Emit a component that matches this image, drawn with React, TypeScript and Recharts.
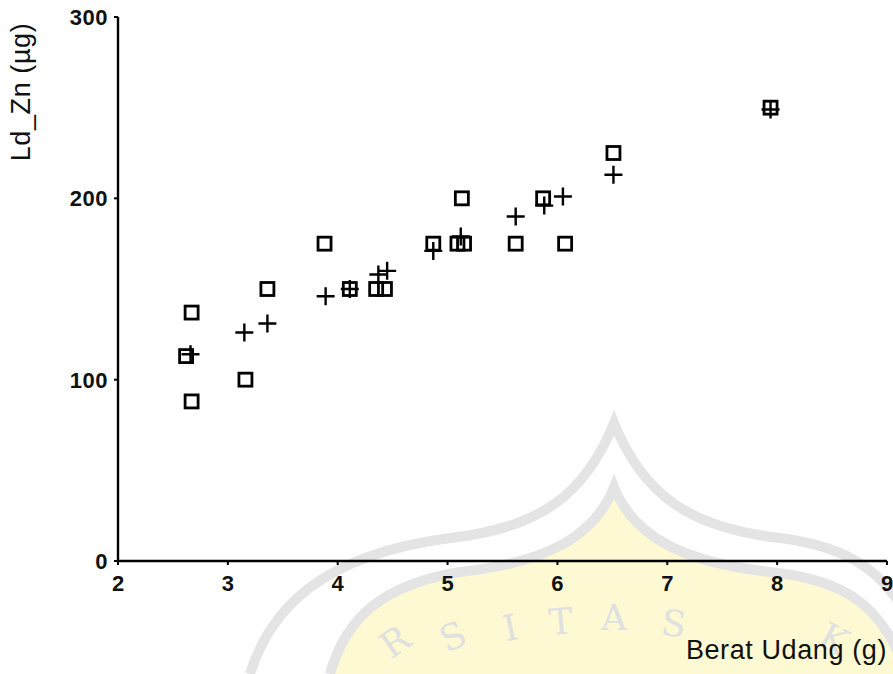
import React from 'react';
import { ScatterChart, Scatter, XAxis, YAxis, Label } from 'recharts';

// Observed values (squares)
const observedX = [2.62, 2.67, 2.67, 3.16, 3.36, 3.88, 4.11, 4.35, 4.43, 4.87, 5.09, 5.15, 5.13, 5.62, 5.87, 6.07, 6.51, 7.94];
const observedY = [113, 137, 88, 100, 150, 175, 150, 150, 150, 175, 175, 175, 200, 175, 200, 175, 225, 250];
// Predicted values (crosses)
const predictedX = [2.66, 3.15, 3.36, 3.89, 4.11, 4.37, 4.45, 4.87, 5.12, 5.62, 5.88, 6.05, 6.51, 7.94];
const predictedY = [114, 126, 131, 146, 150, 158, 160, 171, 179, 190, 196, 201, 213, 249];

const xTicks = [2, 3, 4, 5, 6, 7, 8, 9];
const yTicks = [0, 100, 200, 300];
const xLabel = 'Berat Udang (g)';
const yLabel = 'Ld_Zn (µg)';

const observed = observedX.map((x, i) => ({ x, y: observedY[i] }));
const predicted = predictedX.map((x, i) => ({ x, y: predictedY[i] }));

const FONT = '"Liberation Sans", Arial, Helvetica, sans-serif';

const Square = (props: any) => {
  const { cx, cy } = props;
  if (cx == null || cy == null) return null;
  return <rect x={cx - 6.5} y={cy - 6.5} width={13} height={13} fill="none" stroke="#000" strokeWidth={2.8} />;
};

const Cross = (props: any) => {
  const { cx, cy } = props;
  if (cx == null || cy == null) return null;
  return (
    <path d={`M${cx - 9},${cy}H${cx + 9}M${cx},${cy - 9}V${cy + 9}`} stroke="#000" strokeWidth={2.4} fill="none" />
  );
};

const XTick = (props: any) => {
  const { x, y, payload } = props;
  return (
    <text x={x} y={y + 24} textAnchor="middle" fontFamily={FONT} fontWeight="bold" fontSize={22} fill="#111">
      {payload.value}
    </text>
  );
};

const YTick = (props: any) => {
  const { x, y, payload } = props;
  const shift = payload.value === 0 ? -11 : 0;
  return (
    <text x={x - 4} y={y + 8} textAnchor="end" fontFamily={FONT} fontWeight="bold" fontSize={22} fill="#111" letterSpacing={0.5}>
      {payload.value}
    </text>
  );
};

const Watermark = () => {
  const outer = 'M250,674 C270,610 320,555 450,538 C540,528 585,495 614,423 C643,495 690,528 780,538 C860,548 885,580 905,612';
  const inner = 'M330,674 C345,620 380,585 460,572 C550,562 595,535 614,487 C633,535 680,562 770,572 C850,580 878,610 898,652';
  const letters = [
    { t: 'R', x: 402, y: 652, r: -35 },
    { t: 'S', x: 458, y: 648, r: -24 },
    { t: 'I', x: 513, y: 640, r: -12 },
    { t: 'T', x: 562, y: 634, r: -5 },
    { t: 'A', x: 614, y: 630, r: 0 },
    { t: 'S', x: 672, y: 636, r: 8 },
    { t: 'K', x: 828, y: 650, r: 28 },
  ];
  return (
    <svg width={893} height={674} style={{ position: 'absolute', left: 0, top: 0 }}>
      <path d={`${inner} L898,674 L330,674 Z`} fill="#fdf9d2" />
      <path d={outer} fill="none" stroke="#e4e4e4" strokeWidth={10} />
      <path d={inner} fill="none" stroke="#e4e4e4" strokeWidth={10} />
      {letters.map((l, i) => (
        <text key={i} x={l.x} y={l.y} textAnchor="middle" fontFamily="'DejaVu Serif', serif" fontSize={36} fill="#e0e0e0" transform={`rotate(${l.r} ${l.x} ${l.y})`}>
          {l.t}
        </text>
      ))}
    </svg>
  );
};

export default function App() {
  return (
    <div style={{ position: 'absolute', left: 0, top: 0, width: 893, height: 674, background: '#fff', overflow: 'hidden' }}>
      <Watermark />
      <div style={{ position: 'absolute', left: 0, top: 0 }}>
        <ScatterChart width={893} height={674} margin={{ top: 17, right: 6, bottom: 73, left: 0 }}>
          <XAxis
            type="number"
            dataKey="x"
            domain={[2, 9]}
            ticks={xTicks}
            interval={0}
            height={40}
            allowDataOverflow
            axisLine={{ stroke: '#000', strokeWidth: 2.4 }}
            tickLine={{ stroke: '#000', strokeWidth: 2 }}
            tickSize={4}
            tick={<XTick />}
          >
            <Label
              content={(p: any) => {
                const vb = p.viewBox || {};
                return (
                  <text x={vb.x + vb.width} y={vb.y + 98} textAnchor="end" fontFamily={FONT} fontSize={27} letterSpacing={0.6} fill="#111">
                    {xLabel}
                  </text>
                );
              }}
            />
          </XAxis>
          <YAxis
            type="number"
            dataKey="y"
            domain={[0, 300]}
            ticks={yTicks}
            interval={0}
            width={118}
            allowDataOverflow
            axisLine={{ stroke: '#000', strokeWidth: 2.4 }}
            tickLine={{ stroke: '#000', strokeWidth: 2 }}
            tickSize={4}
            tick={<YTick />}
          >
            <Label
              content={(p: any) => {
                const vb = p.viewBox || {};
                const x = vb.x + 30;
                const y = vb.y + 75;
                return (
                  <text x={x} y={y} textAnchor="middle" fontFamily={FONT} fontSize={27} letterSpacing={0.6} fill="#111" transform={`rotate(-90 ${x} ${y})`}>
                    {yLabel}
                  </text>
                );
              }}
            />
          </YAxis>
          <Scatter data={observed} shape={<Square />} isAnimationActive={false} />
          <Scatter data={predicted} shape={<Cross />} isAnimationActive={false} />
        </ScatterChart>
      </div>
    </div>
  );
}
